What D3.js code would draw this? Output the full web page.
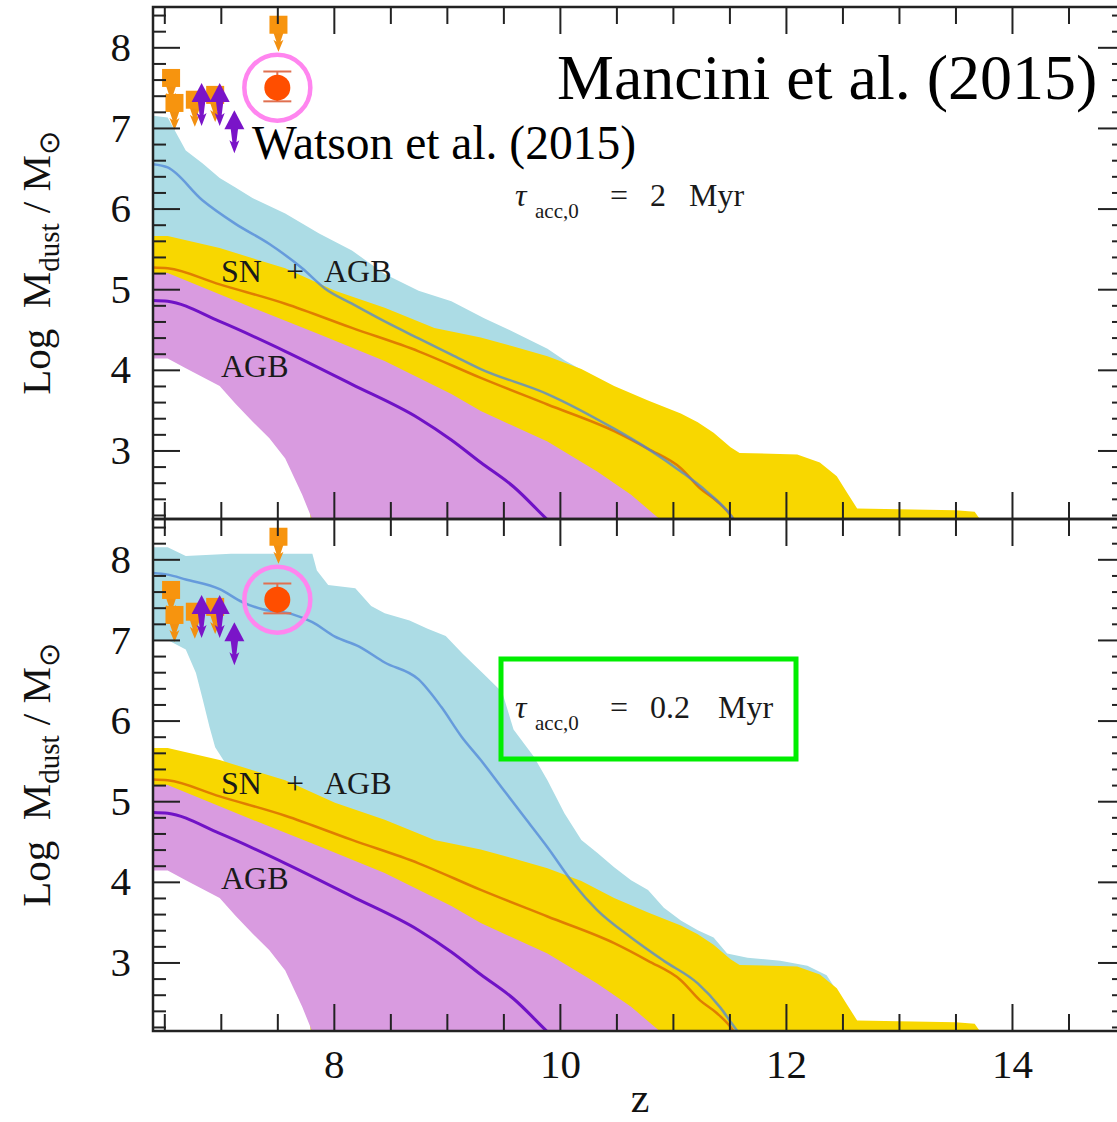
<!DOCTYPE html>
<html>
<head>
<meta charset="utf-8">
<script src="https://cdn.jsdelivr.net/npm/d3@7/dist/d3.min.js"></script>
<style>
  body { margin: 0; background: #fff; }
  text { font-family: "Liberation Serif", "Times New Roman", serif; }
</style>
</head>
<body>
<svg id="chart"></svg>
<script>
// ---- data: [z, log Mdust] pairs ----

// SN + AGB band (same in both panels)
const yellowHi = [[6.4,5.66],[6.53,5.66],[6.99,5.51],[7.57,5.26],[8.01,4.98],[8.45,4.77],[8.89,4.52],
  [9.30,4.40],[9.59,4.29],[9.89,4.17],[10.19,4.01],[10.48,3.80],[10.78,3.62],[11.07,3.46],[11.22,3.35],
  [11.36,3.22],[11.51,3.04],[11.59,2.97],[12.10,2.95],[12.30,2.85],[12.45,2.68],[12.54,2.48],
  [12.63,2.28],[13.0,2.27],[13.5,2.26],[13.67,2.24],[13.74,2.1]];
const yellowLo = [[6.4,4.6],[6.99,4.2],[7.28,3.9],[7.57,3.5],[7.72,3.0],[7.81,2.0],[13.74,2.0]];
const orangeLine = [[6.4,5.27],[6.53,5.26],[6.99,5.06],[7.57,4.82],[8.16,4.52],[8.75,4.23],[9.30,3.90],
  [9.89,3.57],[10.48,3.24],[10.78,3.02],[11.07,2.78],[11.24,2.53],[11.39,2.37],[11.51,2.20],[11.56,2.1]];

// AGB band (same in both panels)
const violetHi = [[6.4,5.20],[6.53,5.20],[7.28,4.77],[7.87,4.44],[8.45,4.11],[9.04,3.70],[9.30,3.49],
  [9.89,3.11],[10.33,2.74],[10.63,2.45],[10.89,2.14],[10.95,2.0]];
const violetLo = [[6.4,4.14],[6.53,4.14],[6.69,4.02],[6.99,3.80],[7.13,3.58],[7.28,3.36],[7.43,3.15],
  [7.57,2.90],[7.72,2.45],[7.81,2.14],[7.85,2.0]];
const purpleLine = [[6.4,4.86],[6.53,4.85],[6.99,4.60],[7.57,4.23],[8.16,3.82],[8.75,3.40],[9.04,3.13],
  [9.30,2.85],[9.59,2.55],[9.89,2.14],[9.92,2.1]];

// grain growth, tau_acc,0 = 2 Myr (top)
const cyanHi2 = [[6.4,7.15],[6.53,7.13],[6.69,6.72],[6.84,6.56],[6.99,6.38],[7.13,6.26],[7.28,6.13],
  [7.57,5.94],[7.87,5.69],[8.16,5.48],[8.45,5.19],[8.75,4.98],[9.04,4.85],[9.33,4.64],[9.59,4.47],
  [9.89,4.26],[10.04,4.12],[10.19,4.0],[10.48,3.72],[10.8,3.45],[11.24,3.0],[11.5,2.6],[11.65,2.0]];
const cyanLo2 = [[6.4,4.6],[6.99,4.2],[7.28,3.9],[7.57,3.5],[7.72,3.0],[7.81,2.0],[11.65,2.0]];
const blueLine2 = [[6.4,6.55],[6.53,6.51],[6.84,6.10],[7.13,5.81],[7.43,5.56],[7.72,5.26],[7.92,5.01],
  [8.16,4.82],[8.45,4.60],[8.75,4.39],[9.04,4.19],[9.30,4.01],[9.89,3.70],[10.48,3.27],[10.78,3.02],
  [11.07,2.74],[11.30,2.49],[11.51,2.20],[11.56,2.1]];

// grain growth, tau_acc,0 = 0.2 Myr (bottom)
const cyanHi02 = [[6.4,8.15],[6.53,8.15],[6.69,8.04],[7.09,8.07],[7.81,8.07],[7.85,7.86],[7.95,7.68],
  [8.19,7.64],[8.33,7.42],[8.45,7.33],[8.67,7.24],[8.83,7.14],[8.99,7.05],[9.14,6.83],[9.33,6.57],
  [9.49,6.35],[9.59,5.89],[9.77,5.55],[9.89,5.26],[10.04,4.85],[10.19,4.52],[10.33,4.36],[10.48,4.18],
  [10.63,4.02],[10.78,3.90],[10.92,3.68],[11.07,3.52],[11.22,3.40],[11.36,3.31],[11.48,3.11],
  [11.66,3.06],[11.95,3.02],[12.19,2.96],[12.36,2.84],[12.45,2.65],[12.55,2.4],[12.62,2.0]];
const cyanLo02 = [[6.4,7.0],[6.53,7.0],[6.69,6.88],[6.78,6.59],[6.84,6.26],[6.90,5.92],[6.95,5.67],
  [7.05,5.45],[7.28,4.5],[7.57,3.6],[7.72,3.0],[7.81,2.0],[12.62,2.0]];
const blueLine02 = [[6.4,7.83],[6.53,7.81],[6.69,7.75],[6.99,7.63],[7.19,7.47],[7.37,7.38],[7.63,7.32],
  [7.81,7.22],[8.01,7.04],[8.22,6.92],[8.45,6.72],[8.75,6.51],[8.95,6.17],[9.13,5.80],[9.30,5.51],
  [9.48,5.18],[9.66,4.85],[9.89,4.43],[10.12,3.98],[10.33,3.65],[10.63,3.31],[10.92,3.02],
  [11.22,2.74],[11.42,2.44],[11.57,2.15],[11.6,2.1]];

// observations
const upperLimits = [[6.56,7.62],[6.59,7.31],[6.77,7.35],[6.95,7.41],[7.51,8.28]];
const lowerLimits = [[6.83,7.41],[6.99,7.41],[7.12,7.07]];
const watson = { z: 7.50, v: 7.50, lo: 7.33, hi: 7.70 };

// axes
const zMajor = [8, 10, 12, 14];
const vMajor = [3, 4, 5, 6, 7, 8];
const tauValues = ["2", "0.2"];

// ---- layout ----
const width = 1117, height = 1122;
const svg = d3.select("#chart").attr("width", width).attr("height", height);

const x = d3.scaleLinear().domain([6.4, 15]).range([153, 1125]);

const panels = [
  { top: 7, bottom: 519, cyanHi: cyanHi2, cyanLo: cyanLo2, blue: blueLine2, tau: tauValues[0], myrX: 689 },
  { top: 519, bottom: 1031, cyanHi: cyanHi02, cyanLo: cyanLo02, blue: blueLine02, tau: tauValues[1], myrX: 718 }
];

const zMinor = d3.range(13, 31).map(i => i / 2).filter(d => !zMajor.includes(d));
const vMinor = d3.range(11, 43).map(i => i / 5).filter(d => !Number.isInteger(d));

panels.forEach((p, i) => {
  const y = d3.scaleLinear().domain([2.15, 8.5]).range([p.bottom, p.top]);
  const g = svg.append("g");

  // clip to the plot box
  svg.append("clipPath").attr("id", "clip" + i)
     .append("rect")
     .attr("x", x.range()[0]).attr("y", p.top)
     .attr("width", x.range()[1] - x.range()[0]).attr("height", p.bottom - p.top);

  const plot = g.append("g").attr("clip-path", `url(#clip${i})`);

  const poly = d3.line().x(d => x(d[0])).y(d => y(d[1]));
  const smooth = d3.line().x(d => x(d[0])).y(d => y(d[1])).curve(d3.curveMonotoneX);

  function band(hi, lo, color) {
    plot.append("path")
        .attr("d", poly(hi.concat(lo.slice().reverse())) + "Z")
        .attr("fill", color);
  }

  band(p.cyanHi, p.cyanLo, "#acdce5");
  band(yellowHi, yellowLo, "#f8d700");
  band(violetHi, violetLo, "#d99be0");

  plot.append("path").attr("d", smooth(orangeLine))
      .attr("fill", "none").attr("stroke", "#e07e00").attr("stroke-width", 2.5);
  plot.append("path").attr("d", smooth(purpleLine))
      .attr("fill", "none").attr("stroke", "#7012c6").attr("stroke-width", 3);
  plot.append("path").attr("d", smooth(p.blue))
      .attr("fill", "none").attr("stroke", "#4f86d8").attr("stroke-opacity", 0.75).attr("stroke-width", 2.5);

  // upper limits: orange squares with down arrows
  const sq = g.selectAll(".ul").data(upperLimits).enter().append("g")
      .attr("transform", d => `translate(${x(d[0])},${y(d[1])})`);
  sq.append("path")
    .attr("d", "M-5,8 L5,8 L2,17 L5,15 L0,27 L-5,15 L-2,17 Z")
    .attr("fill", "#f29010");
  sq.append("rect")
    .attr("x", -9).attr("y", -9).attr("width", 18).attr("height", 18)
    .attr("fill", "#f7940e");

  // lower limits: purple triangles with arrows
  const tr = g.selectAll(".ll").data(lowerLimits).enter().append("g")
      .attr("transform", d => `translate(${x(d[0])},${y(d[1])})`);
  tr.append("path")
    .attr("d", "M-4,4 L4,4 L2,20 L5,18 L0,31 L-5,18 L-2,20 Z")
    .attr("fill", "#7a14c8");
  tr.append("path")
    .attr("d", "M0,-12 L10,7 L-10,7 Z")
    .attr("fill", "#7a14c8");

  // Watson et al. point
  const wx = x(watson.z);
  g.append("line")
   .attr("x1", wx).attr("x2", wx).attr("y1", y(watson.lo)).attr("y2", y(watson.hi))
   .attr("stroke", "#e07050").attr("stroke-width", 2);
  [watson.lo, watson.hi].forEach(v => {
    g.append("line")
     .attr("x1", wx - 14).attr("x2", wx + 14).attr("y1", y(v)).attr("y2", y(v))
     .attr("stroke", "#e07050").attr("stroke-width", 2);
  });
  g.append("circle").attr("cx", wx).attr("cy", y(watson.v)).attr("r", 13).attr("fill", "#ff4e00");
  g.append("circle").attr("cx", wx).attr("cy", y(watson.v)).attr("r", 33)
   .attr("fill", "none").attr("stroke", "#ff85ef").attr("stroke-width", 4.5);

  // band labels
  const lab = g.append("text").attr("y", p.top + 275).attr("font-size", 32).attr("fill", "#1a1a1a");
  lab.append("tspan").attr("x", 221).text("SN");
  lab.append("tspan").attr("x", 286).text("+");
  lab.append("tspan").attr("x", 324).text("AGB");
  g.append("text").attr("x", 221).attr("y", p.top + 370)
   .attr("font-size", 32).attr("fill", "#1a1a1a").text("AGB");

  // tau label
  const tb = p.top + 199;
  const tau = g.append("text").attr("y", tb).attr("font-size", 32).attr("fill", "#1a1a1a");
  tau.append("tspan").attr("x", 515).attr("font-style", "italic").text("τ");
  tau.append("tspan").attr("x", 535).attr("dy", 12).attr("font-size", 21).text("acc,0");
  tau.append("tspan").attr("x", 610).attr("dy", -12).text("=");
  tau.append("tspan").attr("x", 650).text(p.tau);
  tau.append("tspan").attr("x", p.myrX).text("Myr");

  // axes with inward ticks
  const axB = g.append("g").attr("transform", `translate(0,${p.bottom})`);
  axB.call(d3.axisBottom(x).tickValues(zMinor).tickSize(-17).tickFormat(""));
  const axBM = g.append("g").attr("transform", `translate(0,${p.bottom})`);
  axBM.call(d3.axisBottom(x).tickValues(zMajor).tickSize(-27).tickPadding(18)
        .tickFormat(i === 1 ? d3.format("d") : ""));
  const axT = g.append("g").attr("transform", `translate(0,${p.top})`);
  axT.call(d3.axisTop(x).tickValues(zMinor).tickSize(-17).tickFormat(""));
  axT.call(g2 => g2.append("g").call(d3.axisTop(x).tickValues(zMajor).tickSize(-27).tickFormat("")));

  const axL = g.append("g").attr("transform", `translate(${x.range()[0]},0)`);
  axL.call(d3.axisLeft(y).tickValues(vMinor).tickSize(-13).tickFormat(""));
  const axLM = g.append("g").attr("transform", `translate(${x.range()[0]},0)`);
  axLM.call(d3.axisLeft(y).tickValues(vMajor).tickSize(-27).tickPadding(22).tickFormat(d3.format("d")));
  const axR = g.append("g").attr("transform", `translate(${x.range()[1]},0)`);
  axR.call(d3.axisRight(y).tickValues(vMinor).tickSize(-13).tickFormat(""));
  axR.call(g2 => g2.append("g").call(d3.axisRight(y).tickValues(vMajor).tickSize(-27).tickFormat("")));

  g.selectAll(".domain").remove();
  g.selectAll(".tick line").attr("stroke", "#222").attr("stroke-width", 2);
  g.selectAll(".tick text").attr("font-family", "Liberation Serif").attr("font-size", 41).attr("fill", "#111");

  g.append("rect")
   .attr("x", x.range()[0]).attr("y", p.top)
   .attr("width", x.range()[1] - x.range()[0]).attr("height", p.bottom - p.top)
   .attr("fill", "none").attr("stroke", "#222").attr("stroke-width", 2.5);

  // y axis title
  const yt = g.append("text")
      .attr("transform", `translate(50,${(p.top + p.bottom) / 2}) rotate(-90)`)
      .attr("text-anchor", "middle").attr("font-size", 41).attr("fill", "#111")
      .style("white-space", "pre");
  yt.append("tspan").text("Log  M");
  yt.append("tspan").attr("dy", 9).attr("font-size", 29).text("dust");
  yt.append("tspan").attr("dy", -9).text(" / M");
  yt.append("tspan").attr("dy", 9).attr("font-size", 29).text("⊙");
});

// x axis title
svg.append("text").attr("x", 640).attr("y", 1112).attr("text-anchor", "middle")
   .attr("font-size", 42).attr("fill", "#111").text("z");

// overlays added on the slide
svg.append("text").attr("x", 557).attr("y", 99).attr("font-size", 64).attr("fill", "#000")
   .text("Mancini et al. (2015)");
svg.append("text").attr("x", 252).attr("y", 159).attr("font-size", 47.5).attr("fill", "#000")
   .text("Watson et al. (2015)");
svg.append("rect").attr("x", 501).attr("y", 659).attr("width", 295).attr("height", 100)
   .attr("fill", "none").attr("stroke", "#00ee00").attr("stroke-width", 5);
</script>
</body>
</html>
